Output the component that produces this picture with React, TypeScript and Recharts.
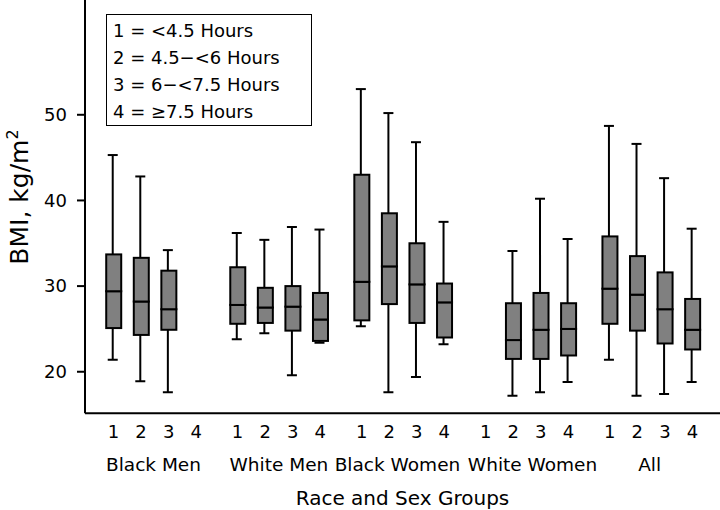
import React from "react";
import { ComposedChart, Bar, XAxis, YAxis, Legend } from "recharts";

const groups = ["Black Men", "White Men", "Black Women", "White Women", "All"];
const sleepCodes = ["1", "2", "3", "4"];
const groupStart = [0, 4.5, 9, 13.5, 18];
// where each group name sits on the x scale
const groupLabelAt = [1.45, 6, 10.3, 15.2, 19.45];

const legendLines = [
  "1 = <4.5 Hours",
  "2 = 4.5\u2212<6 Hours",
  "3 = 6\u2212<7.5 Hours",
  "4 = \u22657.5 Hours",
];

// box stats, group by group, sleep code 1..4 (null = no box)
const mins = [21.4, 18.9, 17.6, null, 23.8, 24.5, 19.6, 23.4, 25.3, 17.6, 19.4, 23.2, null, 17.2, 17.6, 18.8, 21.4, 17.2, 17.4, 18.8];
const q1s = [25.1, 24.3, 24.9, null, 25.6, 25.7, 24.8, 23.6, 26.0, 27.9, 25.7, 24.0, null, 21.5, 21.5, 21.9, 25.6, 24.8, 23.3, 22.6];
const medians = [29.4, 28.2, 27.3, null, 27.8, 27.5, 27.6, 26.1, 30.5, 32.3, 30.2, 28.1, null, 23.7, 24.9, 25.0, 29.7, 29.0, 27.3, 24.9];
const q3s = [33.7, 33.3, 31.8, null, 32.2, 29.8, 30.0, 29.2, 43.0, 38.5, 35.0, 30.3, null, 28.0, 29.2, 28.0, 35.8, 33.5, 31.6, 28.5];
const maxs = [45.3, 42.8, 34.2, null, 36.2, 35.4, 36.9, 36.6, 53.0, 50.2, 46.8, 37.5, null, 34.1, 40.2, 35.5, 48.7, 46.6, 42.6, 36.7];

const yTicks = [20, 30, 40, 50];

const FONT = "DejaVu Sans";
const BOX_W = 15;
const CAP_W = 10;
const WHISKER_SHIFT = -1;

const data: any[] = [];
groups.forEach((g, gi) => {
  sleepCodes.forEach((s, si) => {
    const k = gi * 4 + si;
    if (mins[k] == null) return;
    data.push({
      pos: groupStart[gi] + si,
      base: mins[k],
      lowWhisker: q1s[k]! - mins[k]!,
      lowBox: medians[k]! - q1s[k]!,
      highBox: q3s[k]! - medians[k]!,
      highWhisker: maxs[k]! - q3s[k]!,
    });
  });
});

const tickInfo = new Map<string, { text: string; group: boolean }>();
groupStart.forEach((start, gi) => {
  sleepCodes.forEach((s, si) => tickInfo.set((start + si).toFixed(2), { text: s, group: false }));
  tickInfo.set(groupLabelAt[gi].toFixed(2), { text: groups[gi], group: true });
});
const xTicks = Array.from(tickInfo.keys()).map(Number);

function XTick({ x, y, payload }: any) {
  const info = tickInfo.get(Number(payload.value).toFixed(2));
  if (!info) return null;
  return (
    <text
      x={x}
      y={y + (info.group ? 58 : 25)}
      textAnchor="middle"
      fontFamily={FONT}
      fontSize={info.group ? 18.5 : 18}
      fill="#000"
    >
      {info.text}
    </text>
  );
}

function LowWhisker({ x, y, width, height }: any) {
  const cx = x + width / 2 + WHISKER_SHIFT;
  return (
    <g stroke="#000" strokeWidth={2}>
      <line x1={cx} x2={cx} y1={y} y2={y + height} />
      <line x1={cx - CAP_W / 2} x2={cx + CAP_W / 2} y1={y + height} y2={y + height} />
    </g>
  );
}

function HighWhisker({ x, y, width, height }: any) {
  const cx = x + width / 2 + WHISKER_SHIFT;
  return (
    <g stroke="#000" strokeWidth={2}>
      <line x1={cx} x2={cx} y1={y} y2={y + height} />
      <line x1={cx - CAP_W / 2} x2={cx + CAP_W / 2} y1={y} y2={y} />
    </g>
  );
}

function BoxPart({ x, y, width, height }: any) {
  const cx = x + width / 2;
  return (
    <rect
      x={cx - BOX_W / 2}
      y={y}
      width={BOX_W}
      height={height}
      fill="#808080"
      stroke="#000"
      strokeWidth={2}
    />
  );
}

function SleepLegend() {
  return (
    <div
      style={{
        border: "1.5px solid #000",
        padding: "2px 8px 0 6px",
        width: 190,
        fontFamily: FONT,
        fontSize: 18,
        lineHeight: "27px",
        color: "#000",
        background: "#fff",
      }}
    >
      {legendLines.map((l) => (
        <div key={l}>{l}</div>
      ))}
    </div>
  );
}

function YTitle() {
  return (
    <text
      transform="translate(28,197) rotate(-90)"
      textAnchor="middle"
      fontFamily={FONT}
      fontSize={25}
      fill="#000"
    >
      <tspan>BMI, kg/m</tspan>
      <tspan dy={-10} fontSize={16}>2</tspan>
    </text>
  );
}

function XTitle({ viewBox }: any) {
  return (
    <text
      x={viewBox.x + viewBox.width / 2}
      y={505}
      textAnchor="middle"
      fontFamily={FONT}
      fontSize={20}
      fill="#000"
    >
      Race and Sex Groups
    </text>
  );
}

export default function App() {
  return (
    <div style={{ position: "absolute", left: 0, top: 0, width: 720, height: 510, background: "#fff" }}>
      <ComposedChart
        width={720}
        height={510}
        data={data}
        margin={{ top: 0, right: 0, bottom: 0, left: 0 }}
      >
        <XAxis
          dataKey="pos"
          type="number"
          domain={[-1.034, 22]}
          allowDataOverflow
          ticks={xTicks}
          interval={0}
          tick={<XTick />}
          tickLine={false}
          tickSize={0}
          tickMargin={0}
          height={96.7}
          axisLine={{ stroke: "#000", strokeWidth: 2 }}
          label={<XTitle />}
        />
        <YAxis
          type="number"
          domain={[15.15, 63.4]}
          allowDataOverflow
          ticks={yTicks}
          width={85}
          tickSize={8}
          tickMargin={10}
          tickLine={{ stroke: "#000", strokeWidth: 2 }}
          axisLine={{ stroke: "#000", strokeWidth: 2 }}
          tick={{ fill: "#000", fontSize: 18, fontFamily: FONT }}
          label={<YTitle />}
        />
        <Legend
          layout="vertical"
          align="center"
          verticalAlign="middle"
          content={<SleepLegend />}
          wrapperStyle={{ top: 14, left: 106, width: "auto" }}
        />
        <Bar dataKey="base" stackId="box" barSize={8} shape={() => <g />} isAnimationActive={false} legendType="none" />
        <Bar dataKey="lowWhisker" stackId="box" barSize={8} shape={<LowWhisker />} isAnimationActive={false} legendType="none" />
        <Bar dataKey="lowBox" stackId="box" barSize={8} shape={<BoxPart />} isAnimationActive={false} legendType="none" />
        <Bar dataKey="highBox" stackId="box" barSize={8} shape={<BoxPart />} isAnimationActive={false} legendType="none" />
        <Bar dataKey="highWhisker" stackId="box" barSize={8} shape={<HighWhisker />} isAnimationActive={false} legendType="none" />
      </ComposedChart>
    </div>
  );
}
